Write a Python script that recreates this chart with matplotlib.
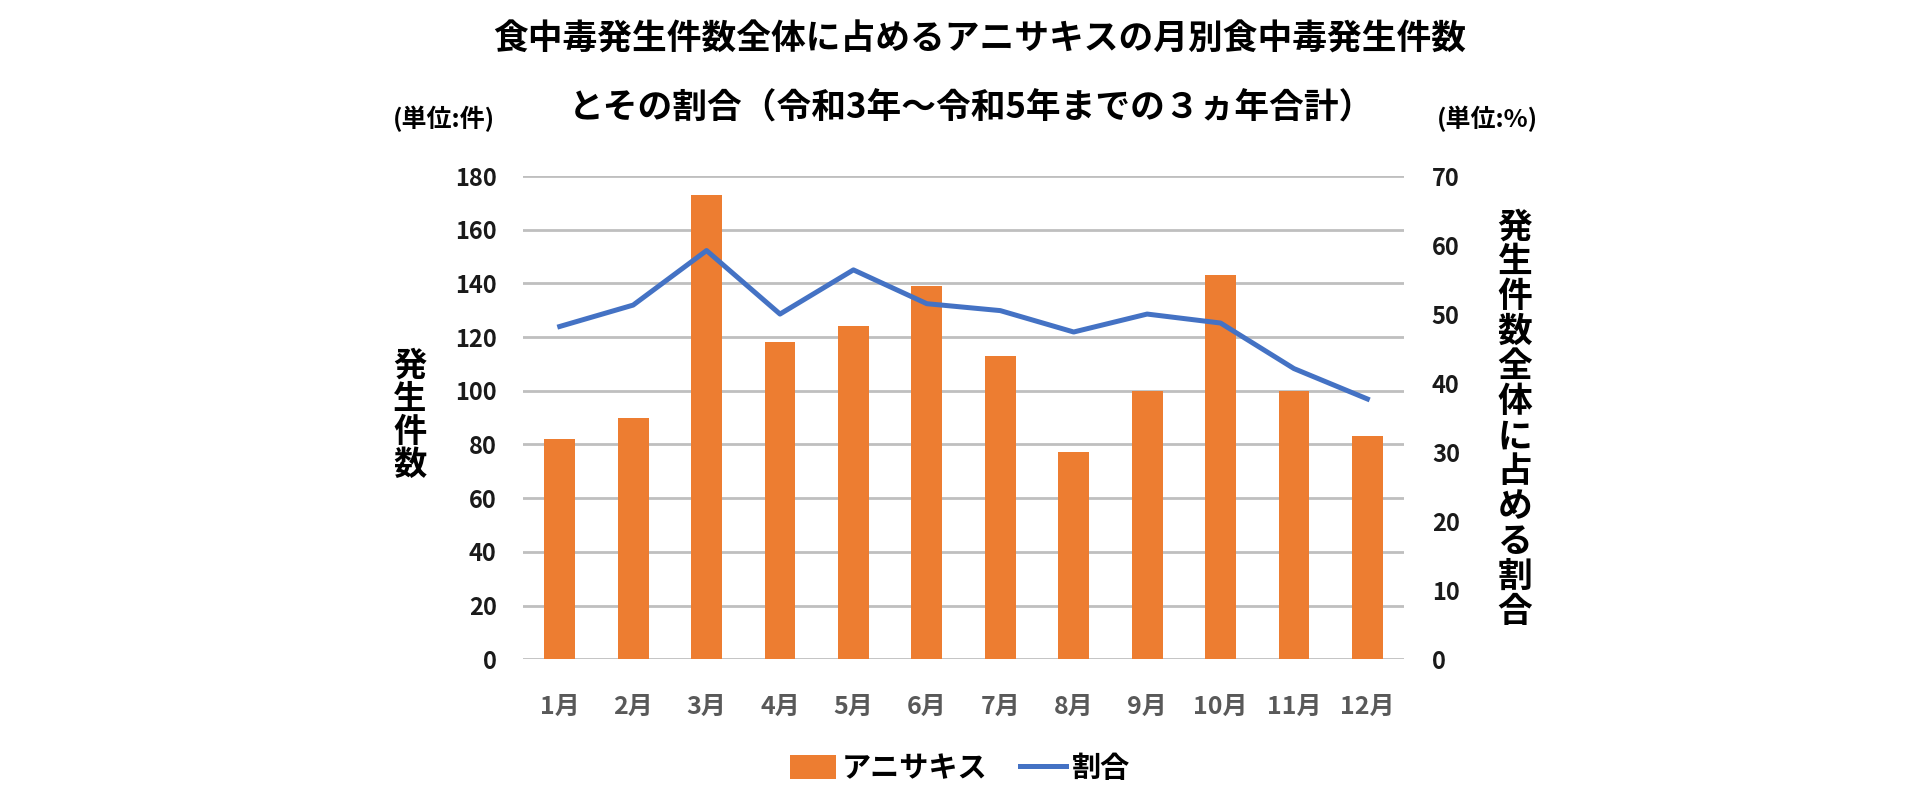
import numpy as np
import matplotlib.pyplot as plt

plt.rcParams['font.family'] = ['Noto Sans CJK JP', 'DejaVu Sans']
plt.rcParams['font.weight'] = 'bold'

# データ (令和3年～令和5年 合計)
months = ['1月', '2月', '3月', '4月', '5月', '6月', '7月', '8月', '9月', '10月', '11月', '12月']
anisakis = [82, 90, 173, 118, 124, 139, 113, 77, 100, 143, 100, 83]
ratio = [48.2, 51.3, 59.2, 50.0, 56.4, 51.5, 50.5, 47.4, 50.0, 48.7, 42.1, 37.7]

orange = '#ED7D31'
blue = '#4472C4'

fig = plt.figure(figsize=(19.2, 8), dpi=100)
ax = fig.add_axes([0.2724, 0.176, 0.4589, 0.604])
ax2 = ax.twinx()

x = np.arange(len(months))
bars = ax.bar(x, anisakis, width=0.42, color=orange, label='アニサキス', zorder=3)
line, = ax2.plot(x, ratio, color=blue, linewidth=3.6, label='割合', zorder=4)

ax.set_xlim(-0.5, len(months) - 0.5)
ax.set_ylim(0, 180)
ax.set_yticks(range(0, 181, 20))
ax2.set_ylim(0, 70)
ax2.set_yticks(range(0, 71, 10))

ax.grid(axis='y', color='#BFBFBF', linewidth=2, zorder=0)
ax.set_axisbelow(True)
for a in (ax, ax2):
    for s in a.spines.values():
        s.set_visible(False)

ax.set_xticks(x)
ax.set_xticklabels(months)
ax.tick_params(axis='x', length=0, pad=26, labelsize=18, labelcolor='#595959')
ax.tick_params(axis='y', length=0, pad=19, labelsize=17, labelcolor='#1a1a1a')
ax2.tick_params(axis='y', length=0, pad=20, labelsize=17, labelcolor='#1a1a1a')
for lab in ax.get_xticklabels() + ax.get_yticklabels() + ax2.get_yticklabels():
    lab.set_fontweight('bold')

# タイトル
fig.text(0.510, 0.951, '食中毒発生件数全体に占めるアニサキスの月別食中毒発生件数',
         ha='center', va='center', fontsize=25, fontweight='bold')
fig.text(0.506, 0.865, 'とその割合（令和3年～令和5年までの３ヵ年合計）',
         ha='center', va='center', fontsize=25, fontweight='bold')

# 単位
fig.text(0.231, 0.851, '(単位:件)', ha='center', va='center', fontsize=18, fontweight='bold')
fig.text(0.7745, 0.851, '(単位:%)', ha='center', va='center', fontsize=18, fontweight='bold')

# 軸ラベル (縦書き)
fig.text(0.2136, 0.48, '\n'.join('発生件数'), ha='center', va='center',
         fontsize=24, fontweight='bold', linespacing=1.0)
fig.text(0.789, 0.476, '\n'.join('発生件数全体に占める割合'), ha='center', va='center',
         fontsize=25, fontweight='bold', linespacing=1.0)

fig.legend(handles=[bars, line], loc='center', bbox_to_anchor=(0.5, 0.04), ncol=2,
           frameon=False, fontsize=21, handlelength=1.6, handleheight=0.9,
           columnspacing=1.1, handletextpad=0.2)

fig.savefig('out.png', dpi=100, facecolor='white')
